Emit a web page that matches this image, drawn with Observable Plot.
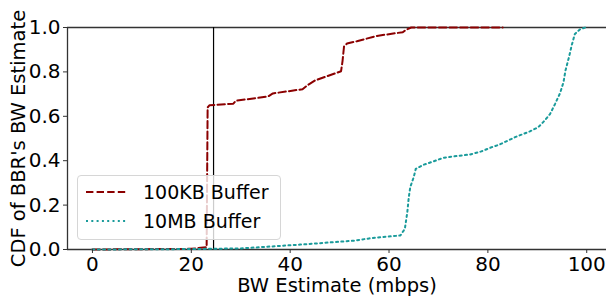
<!DOCTYPE html>
<html>
<head>
<meta charset="utf-8">
<script src="https://cdn.jsdelivr.net/npm/d3@7"></script>
<script src="https://cdn.jsdelivr.net/npm/@observablehq/plot@0.6"></script>
<style>
  html, body { margin: 0; padding: 0; background: #fff; }
  #wrap { position: relative; width: 606px; height: 299px; font-family: "DejaVu Sans", sans-serif; }
  #legend { position: absolute; left: 77px; top: 175px; width: 204px; height: 65px;
    border: 1px solid #d6d6d6; border-radius: 4px; background: rgba(255,255,255,0.8); box-sizing: border-box; }
  .row { position: absolute; left: 0; height: 24px; display: flex; align-items: center; font-size: 19px; color: #000; font-family: "DejaVu Sans", sans-serif; }
  .row svg { margin-left: 8px; margin-right: 17px; }
</style>
</head>
<body>
<div id="wrap"></div>
<script>
// Data
const seriesNames = ["100KB Buffer", "10MB Buffer"];
const seriesColors = ["#8b0000", "#1a9b9b"];
const kb100X = [0, 20, 23.1, 23.3, 23.7, 28.5, 29, 35.5, 36.5, 42.5, 43.5, 45, 50.3, 50.6, 50.9, 51.5, 53.5, 57.5, 62.8, 63.5, 64.5, 83];
const kb100Y = [0, 0.003, 0.01, 0.64, 0.65, 0.657, 0.670, 0.689, 0.703, 0.722, 0.74, 0.761, 0.803, 0.85, 0.915, 0.928, 0.938, 0.962, 0.979, 0.99, 1.0, 1.0];
const mb10X = [0, 20, 30, 35, 42, 53, 56, 58.5, 62.3, 63.2, 63.7, 64.0, 64.3, 65.0, 65.4, 66.9, 68.9, 71, 74, 76.4, 78.7, 80.8, 82.3, 85.5, 88.5, 90.2, 91.5, 92.6, 93.6, 94.6, 95.3, 95.7, 96.4, 97.0, 97.6, 98.6, 99.7];
const mb10Y = [0, 0.002, 0.005, 0.012, 0.022, 0.04, 0.05, 0.056, 0.063, 0.093, 0.168, 0.236, 0.281, 0.326, 0.363, 0.381, 0.396, 0.413, 0.422, 0.428, 0.442, 0.461, 0.472, 0.506, 0.532, 0.551, 0.581, 0.611, 0.656, 0.704, 0.754, 0.806, 0.866, 0.923, 0.971, 0.991, 1.0];
const markerX = [24.5];
const xTicks = [0, 20, 40, 60, 80, 100];
const yTicks = [0, 0.2, 0.4, 0.6, 0.8, 1.0];
const xDomain = [-5.05, 104.0];
const yDomain = [0, 1];

const kb100 = kb100X.map((x, i) => ({x, y: kb100Y[i]}));
const mb10 = mb10X.map((x, i) => ({x, y: mb10Y[i]}));

const chart = Plot.plot({
  width: 606,
  height: 299,
  marginLeft: 67,
  marginRight: 0,
  marginTop: 27,
  marginBottom: 50,
  style: { fontFamily: "'DejaVu Sans', sans-serif", fontSize: "18px", color: "#000", background: "#fff", overflow: "visible" },
  x: { domain: xDomain, ticks: xTicks, label: null },
  y: { domain: yDomain, ticks: yTicks, label: null },
  marks: [
    Plot.ruleX([xDomain[0]], { stroke: "#333", strokeWidth: 1.3 }),
    Plot.ruleY(yDomain, { stroke: "#333", strokeWidth: 1.3 }),
    Plot.ruleX(markerX, { stroke: "#000", strokeWidth: 1.2 }),
    Plot.line(kb100, { x: "x", y: "y", stroke: seriesColors[0], strokeWidth: 2, strokeDasharray: "7.4,3.2" }),
    Plot.line(mb10, { x: "x", y: "y", stroke: seriesColors[1], strokeWidth: 2, strokeDasharray: "2,3.3" }),
    Plot.axisX(xTicks, { tickSize: 4, tickPadding: 3, tickFormat: d => String(d), label: "BW Estimate (mbps)", labelAnchor: "center", labelOffset: 42, labelArrow: "none", stroke: "#333" }),
    Plot.axisY(yTicks, { tickSize: 4, tickPadding: 3, tickFormat: d => d.toFixed(1), label: "CDF of BBR's BW Estimate", labelAnchor: "center", labelOffset: 56, labelArrow: "none", stroke: "#333" })
  ]
});

const svg = d3.select(chart);
svg.selectAll('[aria-label="x-axis tick label"] text, [aria-label="y-axis tick label"] text')
  .style("font-size", "20px").style("fill", "#000").style("font-family", "'DejaVu Sans', sans-serif");
svg.selectAll('[aria-label="x-axis label"] text, [aria-label="y-axis label"] text')
  .style("font-size", "19.5px").style("fill", "#000").style("font-family", "'DejaVu Sans', sans-serif");

const wrap = document.getElementById("wrap");
wrap.appendChild(chart);

const legend = document.createElement("div");
legend.id = "legend";
const dashes = ["7.4,3.2", "2,3.3"];
seriesNames.forEach((name, i) => {
  const row = document.createElement("div");
  row.className = "row";
  row.style.top = (4 + i * 29) + "px";
  row.innerHTML = `<svg width="40" height="6"><line x1="0" y1="3" x2="40" y2="3" stroke="${seriesColors[i]}" stroke-width="2" stroke-dasharray="${dashes[i]}"/></svg><span>${name}</span>`;
  legend.appendChild(row);
});
wrap.appendChild(legend);
</script>
</body>
</html>
